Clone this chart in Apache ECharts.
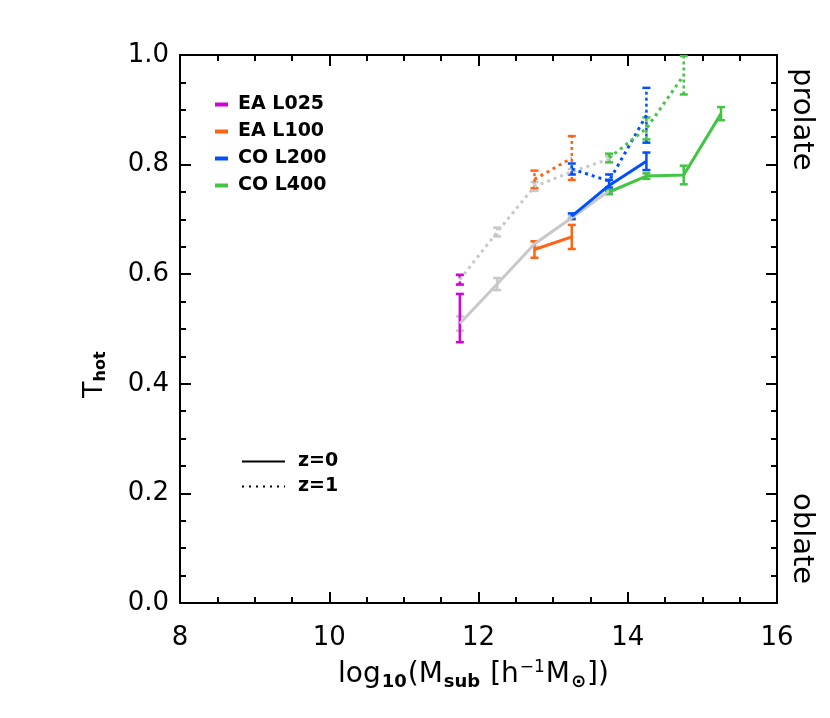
<!DOCTYPE html>
<html>
<head>
<meta charset="utf-8">
<script src="https://cdn.jsdelivr.net/npm/echarts@6/dist/echarts.min.js"></script>
<style>
  html, body { margin: 0; padding: 0; background: #fff; }
  #chart { width: 830px; height: 718px; }
</style>
</head>
<body>
<div id="chart"></div>
<script>
// mass bins (log10 Msub)
const xTicks = [8, 10, 12, 14, 16];

// z=0 (solid) and z=1 (dotted) values, with error half-widths
const grayX = [11.75, 12.25, 12.75, 13.25, 13.75];
const grayZ0 = [0.51, 0.582, 0.655, 0.703, 0.752];
const grayZ0Err = [0.013, 0.011, 0.005, 0.004, 0.004];
const grayZ1 = [0.59, 0.677, 0.76, 0.787, 0.81];
const grayZ1Err = [0.008, 0.008, 0.008, 0.005, 0.005];

const ea025X = [11.75];
const ea025Z0 = [0.52];
const ea025Z0Err = [0.044];
const ea025Z1 = [0.59];
const ea025Z1Err = [0.009];

const ea100X = [12.75, 13.25];
const ea100Z0 = [0.645, 0.668];
const ea100Z0Err = [0.015, 0.022];
const ea100Z1 = [0.773, 0.812];
const ea100Z1Err = [0.016, 0.040];

const co200X = [13.25, 13.75, 14.25];
const co200Z0 = [0.706, 0.762, 0.806];
const co200Z0Err = [0.005, 0.010, 0.016];
const co200Z1 = [0.792, 0.770, 0.890];
const co200Z1Err = [0.010, 0.012, 0.050];

const co400X = [13.75, 14.25, 14.75, 15.25];
const co400Z0 = [0.750, 0.779, 0.781, 0.893];
const co400Z0Err = [0.004, 0.005, 0.017, 0.012];
const co400X1 = [13.75, 14.25, 14.75];
const co400Z1 = [0.812, 0.866, 0.963];
const co400Z1Err = [0.008, 0.020, 0.035];

const FONT = 'DejaVu Sans';
const GRAY = '#c8c8c8';
const MAGENTA = '#d700d7';
const ORANGE = '#ff6414';
const BLUE = '#0050ff';
const GREEN = '#44c444';

function pts(xs, ys) {
  return xs.map((x, i) => [x, ys[i]]);
}
function bars(xs, ys, es) {
  return xs.map((x, i) => [x, ys[i] - es[i], Math.min(ys[i] + es[i], 1.0)]);
}

function lineSeries(name, xs, ys, color, dotted) {
  return {
    name: name,
    type: 'line',
    data: pts(xs, ys),
    symbol: 'none',
    xAxisIndex: 0,
    yAxisIndex: 0,
    lineStyle: { color: color, width: 3, type: dotted ? [3, 4] : 'solid' },
    itemStyle: { color: color },
    silent: true,
    animation: false,
  };
}

function errSeries(xs, ys, es, color, dotted) {
  return {
    type: 'custom',
    data: bars(xs, ys, es),
    xAxisIndex: 0,
    yAxisIndex: 0,
    silent: true,
    animation: false,
    renderItem: function (params, api) {
      const lo = api.coord([api.value(0), api.value(1)]);
      const hi = api.coord([api.value(0), api.value(2)]);
      const w = 4;
      const style = { stroke: color, lineWidth: 2.5, lineDash: dotted ? [3, 3] : null };
      return {
        type: 'group',
        children: [
          { type: 'line', shape: { x1: lo[0], y1: lo[1], x2: hi[0], y2: hi[1] }, style: style },
          { type: 'line', shape: { x1: lo[0] - w, y1: lo[1], x2: lo[0] + w, y2: lo[1] }, style: { stroke: color, lineWidth: 2.5 } },
          { type: 'line', shape: { x1: hi[0] - w, y1: hi[1], x2: hi[0] + w, y2: hi[1] }, style: { stroke: color, lineWidth: 2.5 } },
        ],
      };
    },
  };
}

const axisCommon = {
  axisLine: { show: true, onZero: false, lineStyle: { color: '#000', width: 2 } },
  axisTick: { show: true, inside: true, length: 11, lineStyle: { color: '#000', width: 2 } },
  minorTick: { show: true, splitNumber: 4, length: 6, lineStyle: { color: '#000', width: 2 } },
  splitLine: { show: false },
};

const chart = echarts.init(document.getElementById('chart'));
chart.setOption({
  backgroundColor: '#fff',
  animation: false,
  grid: { left: 180, top: 55, width: 597, height: 548, containLabel: false },
  xAxis: [
    Object.assign({
      type: 'value', position: 'bottom', min: xTicks[0], max: xTicks[xTicks.length - 1], interval: 2,
      axisLabel: { fontFamily: FONT, fontSize: 26, color: '#000', margin: 22 },
    }, axisCommon),
    Object.assign({
      type: 'value', position: 'top', min: xTicks[0], max: xTicks[xTicks.length - 1], interval: 2,
      axisLabel: { show: false },
    }, axisCommon),
  ],
  yAxis: [
    Object.assign({
      type: 'value', position: 'left', min: 0, max: 1, interval: 0.2,
      axisLabel: { fontFamily: FONT, fontSize: 26, color: '#000', margin: 11, formatter: v => v.toFixed(1) },
    }, axisCommon),
    Object.assign({
      type: 'value', position: 'right', min: 0, max: 1, interval: 0.2,
      axisLabel: { show: false },
    }, axisCommon),
  ],
  legend: [
    {
      data: ['EA L025', 'EA L100', 'CO L200', 'CO L400'],
      orient: 'vertical', left: 210, top: 90, itemGap: 8,
      icon: 'rect', itemWidth: 13, itemHeight: 4,
      selectedMode: false,
      textStyle: { fontFamily: FONT, fontSize: 19, fontWeight: 'bold', color: '#000', padding: [0, 0, 0, 5] },
    },
    {
      data: ['z=0', 'z=1'],
      orient: 'vertical', left: 236, top: 447, itemGap: 6,
      itemWidth: 43, itemHeight: 14,
      itemStyle: { opacity: 0 },
      selectedMode: false,
      textStyle: { fontFamily: FONT, fontSize: 19, fontWeight: 'bold', color: '#000', padding: [0, 0, 0, 8] },
    },
  ],
  graphic: [
    {
      type: 'text', left: 338, top: 658,
      style: {
        text: '{m|log}{s|10}{m|(M}{s|sub}{m| [h}{p|−1}{m|M}{s|⊙}{m|])}',
        rich: {
          m: { fontFamily: FONT, fontSize: 28, color: '#000', lineHeight: 36 },
          s: { fontFamily: FONT, fontSize: 18, fontWeight: 'bold', color: '#000', lineHeight: 36, padding: [15, 1, 0, 1] },
          p: { fontFamily: FONT, fontSize: 17, color: '#000', lineHeight: 36, padding: [0, 1, 14, 1] },
        },
      },
    },
    {
      type: 'text', x: 80, y: 398, rotation: Math.PI / 2,
      style: {
        text: '{m|T}{s|hot}',
        rich: {
          m: { fontFamily: FONT, fontSize: 27, color: '#000', lineHeight: 30 },
          s: { fontFamily: FONT, fontSize: 16, fontWeight: 'bold', color: '#000', lineHeight: 30, padding: [12, 0, 0, 0] },
        },
      },
    },
    {
      type: 'text', x: 816, y: 68, rotation: -Math.PI / 2,
      style: { text: 'prolate', fontFamily: FONT, fontSize: 29, fill: '#000' },
    },
    {
      type: 'text', x: 816, y: 493, rotation: -Math.PI / 2,
      style: { text: 'oblate', fontFamily: FONT, fontSize: 29, fill: '#000' },
    },
  ],
  series: [
    lineSeries('gray z0', grayX, grayZ0, GRAY, false),
    errSeries(grayX, grayZ0, grayZ0Err, GRAY, false),
    lineSeries('gray z1', grayX, grayZ1, GRAY, true),
    errSeries(grayX, grayZ1, grayZ1Err, GRAY, true),

    lineSeries('EA L025', ea025X, ea025Z0, MAGENTA, false),
    errSeries(ea025X, ea025Z0, ea025Z0Err, MAGENTA, false),
    lineSeries('EA L025 z1', ea025X, ea025Z1, MAGENTA, true),
    errSeries(ea025X, ea025Z1, ea025Z1Err, MAGENTA, true),

    lineSeries('EA L100', ea100X, ea100Z0, ORANGE, false),
    errSeries(ea100X, ea100Z0, ea100Z0Err, ORANGE, false),
    lineSeries('EA L100 z1', ea100X, ea100Z1, ORANGE, true),
    errSeries(ea100X, ea100Z1, ea100Z1Err, ORANGE, true),

    lineSeries('CO L200', co200X, co200Z0, BLUE, false),
    errSeries(co200X, co200Z0, co200Z0Err, BLUE, false),
    lineSeries('CO L200 z1', co200X, co200Z1, BLUE, true),
    errSeries(co200X, co200Z1, co200Z1Err, BLUE, true),

    lineSeries('CO L400', co400X, co400Z0, GREEN, false),
    errSeries(co400X, co400Z0, co400Z0Err, GREEN, false),
    lineSeries('CO L400 z1', co400X1, co400Z1, GREEN, true),
    errSeries(co400X1, co400Z1, co400Z1Err, GREEN, true),

    // legend samples for line styles
    { name: 'z=0', type: 'line', data: [], symbol: 'none', lineStyle: { color: '#000', width: 3, type: 'solid' }, itemStyle: { color: '#000' } },
    { name: 'z=1', type: 'line', data: [], symbol: 'none', lineStyle: { color: '#000', width: 3, type: [2, 5] }, itemStyle: { color: '#000' } },
  ],
});
</script>
</body>
</html>
